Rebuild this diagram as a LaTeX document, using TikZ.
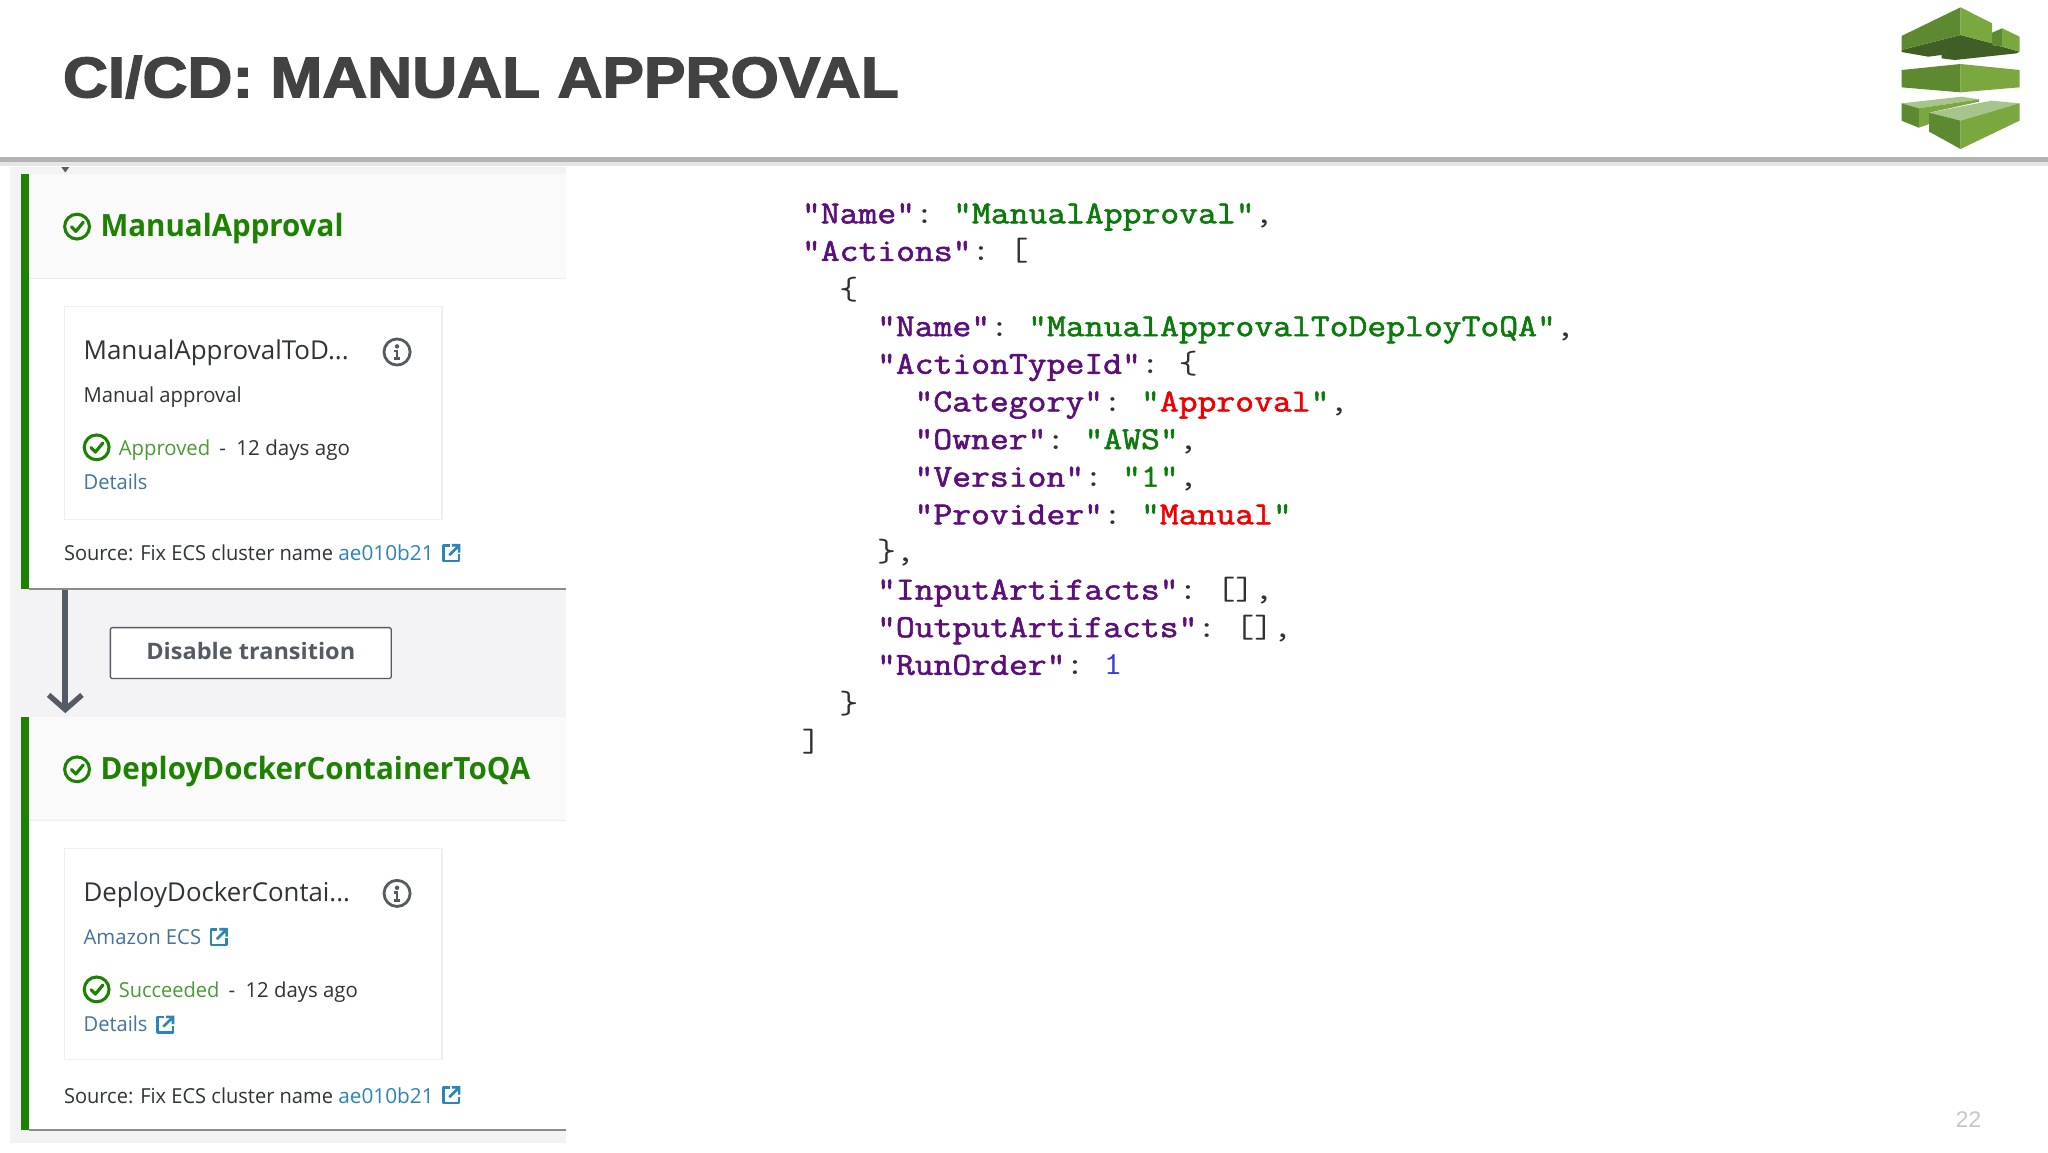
\documentclass[tikz,border=0pt]{standalone}
\usepackage{fontspec}
\usetikzlibrary{arrows.meta}
\setmainfont{Open Sans}
\newfontfamily\titlefont[BoldFeatures={FakeBold=2.2}]{Liberation Sans}
\newfontfamily\pagefont{Liberation Sans}
\newfontfamily\codeb[FakeBold=1.6]{Latin Modern Mono}
\newdimen\uu \uu=0.9796pt
\definecolor{awsgreen}{HTML}{1D8102}
\definecolor{awsgrey}{HTML}{545B64}
\definecolor{awstext}{HTML}{2F3438}
\definecolor{awslink}{HTML}{44739E}
\definecolor{awshash}{HTML}{2B85B5}
\definecolor{panelbg}{HTML}{F3F3F5}
\definecolor{headbg}{HTML}{FAFAFB}
\definecolor{cardline}{HTML}{EFEFF0}
\definecolor{jkeyc}{HTML}{5C0F7C}
\definecolor{jstrc}{HTML}{0A7A0A}
\definecolor{jredc}{HTML}{F00000}
\definecolor{jnumc}{HTML}{3A3AD0}
\definecolor{jpunc}{HTML}{303030}
\definecolor{logoA}{HTML}{7BA73F}
\definecolor{logoB}{HTML}{5D8A30}
\definecolor{logoC}{HTML}{3F5F26}
\definecolor{logoD}{HTML}{A6C48C}
\newcommand\fw[2]{\resizebox{#1\uu}{\height}{#2}}
\newcommand\uifont[1]{\fontsize{#1}{#1}\selectfont}
\newcommand\jsize{\fontsize{26.8}{26.8}\selectfont}
\newcommand\jkey[1]{\textcolor{jkeyc}{{\codeb\jsize #1}}}
\newcommand\jstr[1]{\textcolor{jstrc}{{\codeb\jsize #1}}}
\newcommand\jred[1]{\textcolor{jstrc}{{\codeb\jsize "}}\textcolor{jredc}{{\codeb\jsize #1}}\textcolor{jstrc}{{\codeb\jsize "}}}
\newcommand\jnum[1]{\textcolor{jnumc}{#1}}
\newcommand\jsp{\hspace{14.08pt}}
\newcommand\cl[1]{\scalebox{1.024}[0.9]{#1}}
\tikzset{
  x=0.9796pt, y=-0.9796pt,
  txt/.style={anchor=base west, inner sep=0pt, outer sep=0pt, font=\uifont{15.5}, text=awstext},
  stagehead/.style={txt, font=\uifont{23}\bfseries, text=awsgreen},
  cardtitle/.style={txt, font=\uifont{19.5}, text=awstext},
  linktxt/.style={txt, text=awslink},
  hashtxt/.style={txt, text=awshash},
  oktxt/.style={txt, text=awsgreen!80!white},
  code/.style={anchor=base west, inner sep=0pt, outer sep=0pt, font=\ttfamily\jsize, text=jpunc},
  cardbox/.style={draw=cardline, line width=0.8pt, fill=white},
  lface/.style={fill=logoB}, rface/.style={fill=logoA}, uface/.style={fill=logoC}, tface/.style={fill=logoD},
  transarrow/.style={draw=awsgrey, line width=4.4pt, -{Straight Barb[length=11pt,width=25pt,line width=4pt]}},
}
\newcommand\okicon[3]{%
  \draw[awsgreen, line width=2.3pt] (#1,#2) circle[radius=#3];
  \draw[awsgreen, line width=2.4pt, line cap=round, line join=round]
    ({#1-0.45*#3},{#2+0.02*#3}) -- ({#1-0.1*#3},{#2+0.38*#3}) -- ({#1+0.5*#3},{#2-0.35*#3});
}
\newcommand\infoicon[2]{%
  \draw[awsgrey, line width=2.1pt] (#1,#2) circle[radius=10];
  \fill[awsgrey] (#1,{#2-4.3}) circle[radius=1.7];
  \draw[awsgrey, line width=2.1pt] ({#1-2},{#2-0.8}) -- (#1,{#2-0.8}) -- (#1,{#2+5}) ({#1-2.5},{#2+5.2}) -- ({#1+2.5},{#2+5.2});
}
\newcommand\exticon[2]{%
  \draw[awshash, line width=2pt, line join=round] ({#1-1},{#2-6}) -- ({#1-6},{#2-6}) -- ({#1-6},{#2+6}) -- ({#1+6},{#2+6}) -- ({#1+6},{#2+1});
  \draw[awshash, line width=2pt] ({#1-1.5},{#2+1.5}) -- ({#1+5.5},{#2-5.5}) ({#1+0.5},{#2-6}) -- ({#1+6},{#2-6}) -- ({#1+6},{#2-0.5});
}
\begin{document}
\begin{tikzpicture}
\useasboundingbox (0,0) rectangle (1568,882);
\fill[white] (0,0) rectangle (1568,882);
% header rule
\fill[black!30] (0,120) rectangle (1568,124);
\fill[black!10] (0,124) rectangle (1568,127);
% left panel
\fill[panelbg] (8,128) rectangle (433,875);
\fill[white] (16,133) rectangle (433,451);
\fill[white] (16,549) rectangle (433,865);
\fill[headbg] (22,133) rectangle (433,213);
\fill[headbg] (22,549) rectangle (433,628);
\draw[black!8, line width=0.8pt] (22,213) -- (433,213) (22,628) -- (433,628);
\draw[black!45, line width=1.4pt] (22,451) -- (433,451) (22,865) -- (433,865);
\fill[awsgreen] (16,133) rectangle (22,451);
\fill[awsgreen] (16,549) rectangle (22,865);
\fill[awsgrey] (47,128) -- (53,128) -- (50,132) -- cycle;
% title
\node[anchor=base west, inner sep=0pt, font=\titlefont\bfseries\fontsize{43}{43}\selectfont, text=black!74] (title) at (48,74.5) {\fw{640}{CI/CD: MANUAL APPROVAL}};
% logo
\begin{scope}[shift={(1415,0)}, x=0.25pt, y=-0.25pt]
  \fill[uface] (160,150) -- (337,105) -- (432,130) -- (432,150) -- (280,165) -- (240,170) -- (160,156) -- cycle;
  \fill[uface] (280,165) -- (432,135) -- (462,140) -- (514,155) -- (505,160) -- (320,180) -- (280,175) -- cycle;
  \fill[lface] (432,98) -- (462,85) -- (462,140) -- (432,135) -- cycle;
  \fill[rface] (462,85) -- (514,110) -- (514,155) -- (462,140) -- cycle;
  \fill[lface] (160,108) -- (337,22) -- (337,105) -- (160,150) -- cycle;
  \fill[rface] (337,22) -- (432,70) -- (432,130) -- (337,105) -- cycle;
  \fill[lface] (160,210) -- (337,192) -- (337,277) -- (160,262) -- cycle;
  \fill[rface] (337,192) -- (514,210) -- (514,262) -- (337,277) -- cycle;
  \fill[tface] (160,310) -- (340,290) -- (393,298) -- (212,325) -- cycle;
  \fill[lface] (160,310) -- (212,325) -- (212,383) -- (160,362) -- cycle;
  \fill[rface] (212,325) -- (393,298) -- (393,305) -- (243,338) -- (243,372) -- (212,383) -- cycle;
  \fill[tface] (243,338) -- (430,302) -- (514,310) -- (337,362) -- cycle;
  \fill[lface] (243,338) -- (337,362) -- (337,447) -- (243,395) -- cycle;
  \fill[rface] (337,362) -- (514,310) -- (514,362) -- (337,447) -- cycle;
\end{scope}
% stage 1
\okicon{59}{173.5}{9.5}
\node[stagehead] (s1) at (77,181) {\fw{186}{ManualApproval}};
\node[cardbox, anchor=north west, minimum width=289\uu, minimum height=163\uu, inner sep=0pt] (card1) at (49,234) {};
\node[cardtitle] (c1t) at (64,275) {\fw{203}{ManualApprovalToD...}};
\infoicon{304}{269.5}
\node[txt] (c1s) at (64,308) {\fw{121}{Manual approval}};
\okicon{74}{342.5}{9.5}
\node[oktxt] (c1a) at (91,349) {\fw{70}{Approved}};
\node[txt] (c1d) at (168,349) {-};
\node[txt] (c1w) at (181,349) {\fw{87}{12 days ago}};
\node[linktxt] (c1l) at (64,375) {\fw{49}{Details}};
\node[txt] (src1) at (49,429) {\fw{206}{Source: Fix ECS cluster name}};
\node[hashtxt] (h1) at (259,429) {\fw{73}{ae010b21}};
\exticon{345.5}{423.5}
% transition
\coordinate (tstart) at (50,452);
\coordinate (tend) at (50,546);
\draw[transarrow] (tstart) -- (tend);
\node[draw=awsgrey, line width=1pt, fill=white, rounded corners=1.5pt, anchor=north west, minimum width=215\uu, minimum height=39\uu, inner sep=0pt] (btn) at (84,480) {};
\node[txt, font=\uifont{17}\bfseries, text=awsgrey] (btnt) at (112,505) {\fw{160}{Disable transition}};
% stage 2
\okicon{59}{589}{9.5}
\node[stagehead] (s2) at (77,597) {\fw{329}{DeployDockerContainerToQA}};
\node[cardbox, anchor=north west, minimum width=289\uu, minimum height=162\uu, inner sep=0pt] (card2) at (49,649) {};
\node[cardtitle] (c2t) at (64,690) {\fw{204}{DeployDockerContai...}};
\infoicon{304}{684}
\node[linktxt] (c2s) at (64,723) {\fw{90}{Amazon ECS}};
\exticon{167.5}{717.5}
\okicon{74}{757.5}{9.5}
\node[oktxt] (c2a) at (91,764) {\fw{77}{Succeeded}};
\node[txt] (c2d) at (175,764) {-};
\node[txt] (c2w) at (188,764) {\fw{86}{12 days ago}};
\node[linktxt] (c2l) at (64,790) {\fw{49}{Details}};
\exticon{126.5}{784.5}
\node[txt] (src2) at (49,844.5) {\fw{206}{Source: Fix ECS cluster name}};
\node[hashtxt] (h2) at (259,844.5) {\fw{73}{ae010b21}};
\exticon{345.5}{838.5}
% code
\node[code] (l1) at (614,171) {\cl{\jkey{"Name"}:\jsp\jstr{"ManualApproval"},}};
\node[code] (l2) at (614,199.8) {\cl{\jkey{"Actions"}:\jsp[}};
\node[code] (l3) at (642.7,229) {\cl{\{}};
\node[code] (l4) at (671.5,257.4) {\cl{\jkey{"Name"}:\jsp\jstr{"ManualApprovalToDeployToQA"},}};
\node[code] (l5) at (671.5,286.2) {\cl{\jkey{"ActionTypeId"}:\jsp\{}};
\node[code] (l6) at (700.2,315) {\cl{\jkey{"Category"}:\jsp\jred{Approval},}};
\node[code] (l7) at (700.2,343.8) {\cl{\jkey{"Owner"}:\jsp\jstr{"AWS"},}};
\node[code] (l8) at (700.2,372.6) {\cl{\jkey{"Version"}:\jsp\jstr{"1"},}};
\node[code] (l9) at (700.2,401.4) {\cl{\jkey{"Provider"}:\jsp\jred{Manual}}};
\node[code] (l10) at (671.5,430.2) {\cl{\},}};
\node[code] (l11) at (671.5,459) {\cl{\jkey{"InputArtifacts"}:\jsp[],}};
\node[code] (l12) at (671.5,487.8) {\cl{\jkey{"OutputArtifacts"}:\jsp[],}};
\node[code] (l13) at (671.5,516.6) {\cl{\jkey{"RunOrder"}:\jsp\jnum{1}}};
\node[code] (l14) at (642.7,545.9) {\cl{\}}};
\node[code] (l15) at (614,575) {\cl{]}};
% page number
\node[anchor=base east, inner sep=0pt, font=\pagefont\fontsize{17}{17}\selectfont, text=black!22] (pg) at (1517,863) {22};
\end{tikzpicture}
\end{document}
